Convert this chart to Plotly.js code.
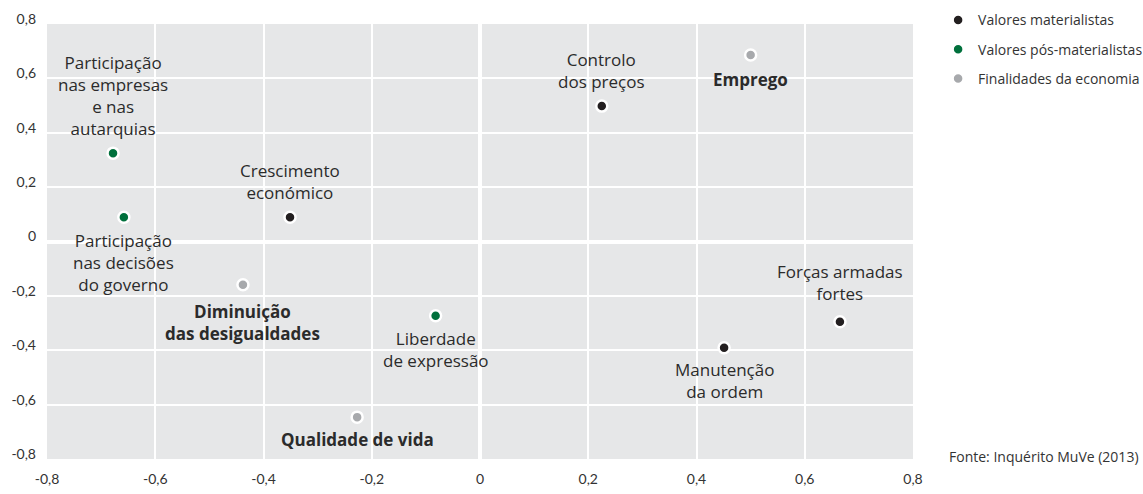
<!DOCTYPE html>
<html>
<head>
<meta charset="utf-8">
<script src="https://cdn.plot.ly/plotly-3.0.1.min.js"></script>
<style>html,body{margin:0;padding:0;background:#fff;}#chart{width:1143px;height:494px;}</style>
</head>
<body>
<div id="chart"></div>
<script>
// Data
const seriesNames = ["Valores materialistas", "Valores pós-materialistas", "Finalidades da economia"];

const matLabels = ["Crescimento<br>económico", "Controlo<br>dos preços", "Forças armadas<br>fortes", "Manutenção<br>da ordem"];
const matX = [-0.351, 0.225, 0.665, 0.451];
const matY = [0.089, 0.498, -0.295, -0.391];

const posLabels = ["Participação<br>nas empresas<br>e nas<br>autarquias", "Participação<br>nas decisões<br>do governo", "Liberdade<br>de expressão"];
const posX = [-0.678, -0.658, -0.082];
const posY = [0.325, 0.089, -0.273];

const finLabels = ["<b>Emprego</b>", "<b>Diminuição<br>das desigualdades</b>", "<b>Qualidade de vida</b>"];
const finX = [0.500, -0.438, -0.227];
const finY = [0.686, -0.159, -0.646];

const tickVals = [-0.8, -0.6, -0.4, -0.2, 0, 0.2, 0.4, 0.6, 0.8];
const tickLabels = ["-0,8", "-0,6", "-0,4", "-0,2", "0", "0,2", "0,4", "0,6", "0,8"];

const sourceText = "Fonte: Inquérito MuVe (2013)";

// Styles: label side ("above"/"below") and gap in px from marker centre to nearest text line centre
const colors = ["#231f20", "#00703c", "#a7a9ac"];
const matSide = ["above", "above", "above", "below"];
const matGap = [23, 23, 27, 20];
const posSide = ["above", "below", "below"];
const posGap = [23, 22, 21];
const finSide = ["below", "below", "below"];
const finGap = [23, 25, 21];

const FONT = "'Open Sans', Lato, sans-serif";
const TICKFONT = "Lato, 'Open Sans', sans-serif";
const LABEL_SIZE = 17;
const HALF_LINE = 12;

function trace(name, x, y, color, group) {
  return {
    type: "scatter", mode: "markers", name: name,
    x: x, y: y, legendgroup: group,
    marker: {color: color, size: 11, line: {color: "#ffffff", width: 2.5}},
    hoverinfo: "skip", cliponaxis: false
  };
}

function labelAnnotations(x, y, labels, sides, gaps) {
  return labels.map(function (t, i) {
    const above = sides[i] === "above";
    return {
      xref: "x", yref: "y", x: x[i], y: y[i], text: t, showarrow: false,
      xanchor: "center", yanchor: above ? "bottom" : "top",
      yshift: above ? (gaps[i] - HALF_LINE) : -(gaps[i] - HALF_LINE),
      align: "center",
      font: {family: FONT, size: LABEL_SIZE, color: "#2b2b2b"}
    };
  });
}

const data = [
  trace(seriesNames[0], matX, matY, colors[0], "a"),
  trace(seriesNames[1], posX, posY, colors[1], "b"),
  trace(seriesNames[2], finX, finY, colors[2], "c")
];

const axisCommon = {
  range: [-0.8, 0.8], tickvals: tickVals, ticktext: tickLabels,
  showgrid: true, gridcolor: "#ffffff", gridwidth: 2,
  zeroline: true, zerolinecolor: "#ffffff", zerolinewidth: 4,
  showline: false, ticks: "", fixedrange: true, automargin: false,
  tickfont: {family: TICKFONT, size: 14, color: "#333333"}
};

const annotations = []
  .concat(labelAnnotations(matX, matY, matLabels, matSide, matGap))
  .concat(labelAnnotations(posX, posY, posLabels, posSide, posGap))
  .concat(labelAnnotations(finX, finY, finLabels, finSide, finGap))
  .concat([{
    xref: "paper", yref: "paper", x: 1.263, y: 0, xanchor: "right", yanchor: "middle",
    yshift: 3, text: sourceText, showarrow: false,
    font: {family: FONT, size: 14, color: "#333333"}
  }]);

const layout = {
  width: 1143, height: 494,
  margin: {l: 47, r: 230, t: 24, b: 35, autoexpand: false},
  paper_bgcolor: "#ffffff", plot_bgcolor: "#e6e7e8",
  font: {family: FONT, color: "#333333"},
  xaxis: Object.assign({}, axisCommon, {ticklabelstandoff: 10}),
  yaxis: Object.assign({}, axisCommon, {ticklabelstandoff: 10, ticklabelshift: -5}),
  showlegend: true,
  legend: {
    x: 1.029, xanchor: "left", y: 1.045, yanchor: "top",
    font: {family: FONT, size: 14, color: "#333333"},
    tracegroupgap: 8, bgcolor: "rgba(0,0,0,0)", itemclick: false, itemdoubleclick: false
  },
  annotations: annotations
};

Plotly.newPlot("chart", data, layout, {displayModeBar: false, staticPlot: true});
</script>
</body>
</html>
